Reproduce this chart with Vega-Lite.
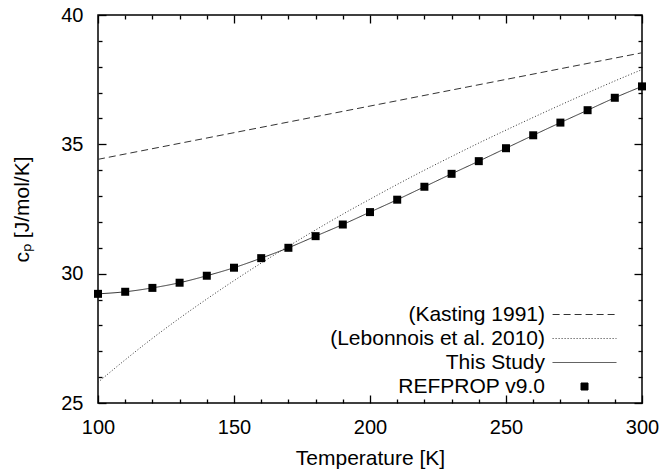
{
  "$schema": "https://vega.github.io/schema/vega-lite/v6.json",
  "width": 544,
  "height": 388,
  "autosize": "none",
  "padding": {"left": 98, "top": 15, "right": 21, "bottom": 70},
  "background": "white",
  "config": {
    "view": {"stroke": "black", "strokeWidth": 1.5},
    "font": "Liberation Sans",
    "axis": {"domain": false, "grid": false, "ticks": true, "tickColor": "black", "tickWidth": 1.3, "labelColor": "black", "titleColor": "black", "labelFont": "Liberation Sans", "titleFont": "Liberation Sans", "titleFontWeight": "normal", "labelFlush": false, "labelOverlap": false}
  },
  "datasets": {
    "cp": [
      {"series": "(Kasting 1991)", "T": 100, "cp": 34.42},
      {"series": "(Kasting 1991)", "T": 150, "cp": 35.45},
      {"series": "(Kasting 1991)", "T": 200, "cp": 36.48},
      {"series": "(Kasting 1991)", "T": 250, "cp": 37.51},
      {"series": "(Kasting 1991)", "T": 300, "cp": 38.54},
      {"series": "(Lebonnois et al. 2010)", "T": 100, "cp": 25.80},
      {"series": "(Lebonnois et al. 2010)", "T": 110, "cp": 26.67},
      {"series": "(Lebonnois et al. 2010)", "T": 120, "cp": 27.50},
      {"series": "(Lebonnois et al. 2010)", "T": 130, "cp": 28.28},
      {"series": "(Lebonnois et al. 2010)", "T": 140, "cp": 29.02},
      {"series": "(Lebonnois et al. 2010)", "T": 150, "cp": 29.73},
      {"series": "(Lebonnois et al. 2010)", "T": 160, "cp": 30.41},
      {"series": "(Lebonnois et al. 2010)", "T": 170, "cp": 31.06},
      {"series": "(Lebonnois et al. 2010)", "T": 180, "cp": 31.69},
      {"series": "(Lebonnois et al. 2010)", "T": 190, "cp": 32.30},
      {"series": "(Lebonnois et al. 2010)", "T": 200, "cp": 32.88},
      {"series": "(Lebonnois et al. 2010)", "T": 210, "cp": 33.45},
      {"series": "(Lebonnois et al. 2010)", "T": 220, "cp": 34.00},
      {"series": "(Lebonnois et al. 2010)", "T": 230, "cp": 34.53},
      {"series": "(Lebonnois et al. 2010)", "T": 240, "cp": 35.05},
      {"series": "(Lebonnois et al. 2010)", "T": 250, "cp": 35.55},
      {"series": "(Lebonnois et al. 2010)", "T": 260, "cp": 36.04},
      {"series": "(Lebonnois et al. 2010)", "T": 270, "cp": 36.52},
      {"series": "(Lebonnois et al. 2010)", "T": 280, "cp": 36.99},
      {"series": "(Lebonnois et al. 2010)", "T": 290, "cp": 37.45},
      {"series": "(Lebonnois et al. 2010)", "T": 300, "cp": 37.89},
      {"series": "This Study", "T": 100, "cp": 29.22},
      {"series": "This Study", "T": 110, "cp": 29.30},
      {"series": "This Study", "T": 120, "cp": 29.45},
      {"series": "This Study", "T": 130, "cp": 29.65},
      {"series": "This Study", "T": 140, "cp": 29.92},
      {"series": "This Study", "T": 150, "cp": 30.23},
      {"series": "This Study", "T": 160, "cp": 30.60},
      {"series": "This Study", "T": 170, "cp": 31.00},
      {"series": "This Study", "T": 180, "cp": 31.45},
      {"series": "This Study", "T": 190, "cp": 31.90},
      {"series": "This Study", "T": 200, "cp": 32.38},
      {"series": "This Study", "T": 210, "cp": 32.86},
      {"series": "This Study", "T": 220, "cp": 33.36},
      {"series": "This Study", "T": 230, "cp": 33.86},
      {"series": "This Study", "T": 240, "cp": 34.35},
      {"series": "This Study", "T": 250, "cp": 34.85},
      {"series": "This Study", "T": 260, "cp": 35.35},
      {"series": "This Study", "T": 270, "cp": 35.84},
      {"series": "This Study", "T": 280, "cp": 36.32},
      {"series": "This Study", "T": 290, "cp": 36.80},
      {"series": "This Study", "T": 300, "cp": 37.24},
      {"series": "REFPROP v9.0", "T": 100, "cp": 29.22},
      {"series": "REFPROP v9.0", "T": 110, "cp": 29.30},
      {"series": "REFPROP v9.0", "T": 120, "cp": 29.45},
      {"series": "REFPROP v9.0", "T": 130, "cp": 29.65},
      {"series": "REFPROP v9.0", "T": 140, "cp": 29.92},
      {"series": "REFPROP v9.0", "T": 150, "cp": 30.23},
      {"series": "REFPROP v9.0", "T": 160, "cp": 30.60},
      {"series": "REFPROP v9.0", "T": 170, "cp": 31.00},
      {"series": "REFPROP v9.0", "T": 180, "cp": 31.45},
      {"series": "REFPROP v9.0", "T": 190, "cp": 31.90},
      {"series": "REFPROP v9.0", "T": 200, "cp": 32.38},
      {"series": "REFPROP v9.0", "T": 210, "cp": 32.86},
      {"series": "REFPROP v9.0", "T": 220, "cp": 33.36},
      {"series": "REFPROP v9.0", "T": 230, "cp": 33.86},
      {"series": "REFPROP v9.0", "T": 240, "cp": 34.35},
      {"series": "REFPROP v9.0", "T": 250, "cp": 34.85},
      {"series": "REFPROP v9.0", "T": 260, "cp": 35.35},
      {"series": "REFPROP v9.0", "T": 270, "cp": 35.84},
      {"series": "REFPROP v9.0", "T": 280, "cp": 36.32},
      {"series": "REFPROP v9.0", "T": 290, "cp": 36.80},
      {"series": "REFPROP v9.0", "T": 300, "cp": 37.24}
    ]
  },
  "data": {"name": "cp"},
  "resolve": {"axis": {"x": "independent", "y": "independent"}},
  "layer": [
    {
      "transform": [{"filter": "datum.series !== 'REFPROP v9.0'"}],
      "mark": {"type": "line", "strokeWidth": 1, "color": "#333", "interpolate": "monotone"},
      "encoding": {
        "x": {
          "field": "T", "type": "quantitative",
          "scale": {"domain": [100, 300], "nice": false, "zero": false},
          "axis": {
            "orient": "bottom",
            "values": [100, 150, 200, 250, 300],
            "offset": -8,
            "tickSize": 8,
            "labelPadding": 14,
            "labelFontSize": 20,
            "title": "Temperature [K]",
            "titleFontSize": 21,
            "titleBaseline": "alphabetic",
            "titleY": 69
          }
        },
        "y": {
          "field": "cp", "type": "quantitative",
          "scale": {"domain": [25, 40], "nice": false, "zero": false},
          "axis": {
            "orient": "left",
            "values": [25, 30, 35, 40],
            "offset": -8,
            "tickSize": 8,
            "labelPadding": 15,
            "labelFontSize": 20,
            "title": "cₚ [J/mol/K]",
            "titleFontSize": 21,
            "titleAngle": -90,
            "titleBaseline": "alphabetic",
            "titleAlign": "center",
            "titleX": -78,
            "titleY": 194
          }
        },
        "strokeDash": {
          "field": "series", "type": "nominal",
          "scale": {
            "domain": ["(Kasting 1991)", "(Lebonnois et al. 2010)", "This Study", "REFPROP v9.0"],
            "range": [[7, 4], [1, 2], [1, 0], [1, 0]]
          },
          "legend": {
            "orient": "none",
            "legendX": 476,
            "legendY": 289,
            "title": null,
            "symbolSize": 121,
            "symbolStrokeWidth": 1,
            "symbolStrokeColor": "#333",
            "labelAlign": "right",
            "labelOffset": -50,
            "labelFontSize": 21,
            "labelFont": "Liberation Sans",
            "labelColor": "black",
            "labelLimit": 400,
            "rowPadding": 2,
            "encode": {
              "symbols": {
                "update": {
                  "shape": {"signal": "datum.value === 'REFPROP v9.0' ? 'square' : 'M-5.8,0H5.8'"},
                  "size": {"signal": "datum.value === 'REFPROP v9.0' ? 49 : 121"},
                  "fill": {"signal": "datum.value === 'REFPROP v9.0' ? 'black' : 'transparent'"},
                  "stroke": {"signal": "datum.value === 'REFPROP v9.0' ? 'black' : '#333'"}
                }
              }
            }
          }
        }
      }
    },
    {
      "transform": [{"filter": "datum.series === 'REFPROP v9.0'"}],
      "mark": {"type": "point", "shape": "square", "filled": true, "size": 64, "color": "black", "opacity": 1},
      "encoding": {
        "x": {
          "field": "T", "type": "quantitative",
          "axis": {"orient": "top", "values": [100, 150, 200, 250, 300], "labels": false, "title": null, "offset": -8, "tickSize": 8}
        },
        "y": {
          "field": "cp", "type": "quantitative",
          "axis": {"orient": "right", "values": [25, 30, 35, 40], "labels": false, "title": null, "offset": -8, "tickSize": 8}
        }
      }
    },
    {
      "transform": [{"filter": "datum.series === 'REFPROP v9.0'"}],
      "mark": {"type": "point", "shape": "square", "filled": true, "size": 64, "color": "black", "opacity": 0},
      "encoding": {
        "x": {
          "field": "T", "type": "quantitative",
          "axis": {"orient": "bottom", "values": [110,120,130,140,160,170,180,190,210,220,230,240,260,270,280,290], "labels": false, "title": null, "offset": -4, "tickSize": 4}
        },
        "y": {
          "field": "cp", "type": "quantitative",
          "axis": {"orient": "left", "values": [26,27,28,29,31,32,33,34,36,37,38,39], "labels": false, "title": null, "offset": -4, "tickSize": 4}
        }
      }
    },
    {
      "transform": [{"filter": "datum.series === 'REFPROP v9.0'"}],
      "mark": {"type": "point", "shape": "square", "filled": true, "size": 64, "color": "black", "opacity": 0},
      "encoding": {
        "x": {
          "field": "T", "type": "quantitative",
          "axis": {"orient": "top", "values": [110,120,130,140,160,170,180,190,210,220,230,240,260,270,280,290], "labels": false, "title": null, "offset": -4, "tickSize": 4}
        },
        "y": {
          "field": "cp", "type": "quantitative",
          "axis": {"orient": "right", "values": [26,27,28,29,31,32,33,34,36,37,38,39], "labels": false, "title": null, "offset": -4, "tickSize": 4}
        }
      }
    }
  ]
}
